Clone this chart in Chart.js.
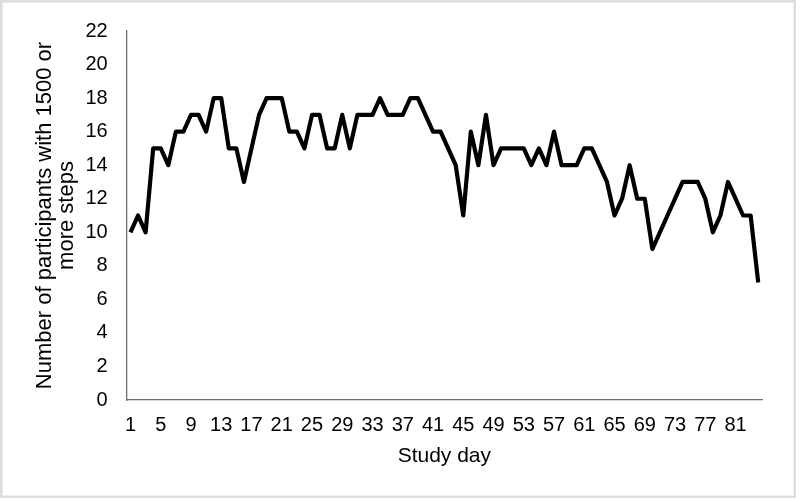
<!DOCTYPE html>
<html>
<head>
<meta charset="utf-8">
<script src="https://cdn.jsdelivr.net/npm/chart.js@4"></script>
<style>
html,body{margin:0;padding:0;background:#fff;}
#wrap{width:800px;height:501px;position:relative;}
</style>
</head>
<body>
<div id="wrap"><canvas id="c" width="800" height="501"></canvas></div>
<script>
const days = [1,2,3,4,5,6,7,8,9,10,11,12,13,14,15,16,17,18,19,20,21,22,23,24,25,26,27,28,29,30,
  31,32,33,34,35,36,37,38,39,40,41,42,43,44,45,46,47,48,49,50,51,52,53,54,55,56,57,58,59,60,
  61,62,63,64,65,66,67,68,69,70,71,72,73,74,75,76,77,78,79,80,81,82,83,84];
const participants = [10,11,10,15,15,14,16,16,17,17,16,18,18,15,15,13,15,17,18,18,18,16,16,15,17,17,15,15,17,15,
  17,17,17,18,17,17,17,18,18,17,16,16,15,14,11,16,14,17,14,15,15,15,15,14,15,14,16,14,14,14,
  15,15,14,13,11,12,14,12,12,9,10,11,12,13,13,13,12,10,11,13,12,11,11,7];
const xTickLabels = [1,5,9,13,17,21,25,29,33,37,41,45,49,53,57,61,65,69,73,77,81];
const yMin = 0, yMax = 22, yStep = 2;
const yAxisTitle = ['Number of participants with 1500 or', 'more steps'];
const xAxisTitle = 'Study day';

const FONT = "'Liberation Sans', Arial, Helvetica, sans-serif";

const frame = {
  id: 'frame',
  afterDraw(chart) {
    const ctx = chart.ctx;
    ctx.save();
    ctx.strokeStyle = '#dcdcdc';
    ctx.lineWidth = 2.5;
    ctx.strokeRect(1.25, 1.25, 793.5, 495.5);
    ctx.restore();
  }
};

new Chart(document.getElementById('c'), {
  type: 'line',
  data: {
    labels: days,
    datasets: [{
      data: participants,
      borderColor: '#000000',
      borderWidth: 4.2,
      pointRadius: 0,
      tension: 0,
      fill: false,
      borderJoinStyle: 'round',
      borderCapStyle: 'butt'
    }]
  },
  options: {
    responsive: false,
    animation: false,
    devicePixelRatio: 1,
    layout: { padding: { left: 0, top: 26.5, right: 38, bottom: 0 } },
    plugins: { legend: { display: false }, tooltip: { enabled: false } },
    scales: {
      x: {
        type: 'category',
        offset: true,
        grid: { display: false, drawTicks: false },
        border: { display: true, color: '#6e6e6e', width: 1.3 },
        ticks: {
          autoSkip: false,
          maxRotation: 0,
          minRotation: 0,
          padding: 13.3,
          color: '#000',
          font: { family: FONT, size: 20 },
          callback: function(value, index) {
            const lab = this.getLabelForValue(value);
            return xTickLabels.includes(Number(lab)) ? String(lab) : '';
          }
        },
        title: {
          display: true,
          text: xAxisTitle,
          color: '#000',
          font: { family: FONT, size: 21 },
          padding: { top: 0, bottom: 32.6 }
        },
        afterFit(scale) { scale.height = 101; }
      },
      y: {
        min: yMin,
        max: yMax,
        grid: { display: false, drawTicks: false },
        border: { display: true, color: '#6e6e6e', width: 1.3 },
        ticks: {
          stepSize: yStep,
          padding: 19,
          color: '#000',
          font: { family: FONT, size: 20 }
        },
        title: {
          display: true,
          text: yAxisTitle,
          color: '#000',
          font: { family: FONT, size: 22, lineHeight: '22px' },
          padding: { top: 34, bottom: 0 }
        },
        afterFit(scale) { scale.width = 126.7; }
      }
    }
  },
  plugins: [frame]
});
</script>
</body>
</html>
